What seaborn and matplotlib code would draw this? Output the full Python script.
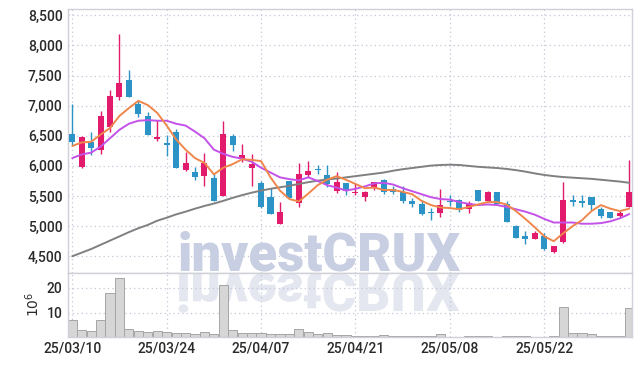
import numpy as np
import pandas as pd
import matplotlib
matplotlib.use("Agg")
import matplotlib.pyplot as plt
import seaborn as sns
from matplotlib.ticker import FuncFormatter
from matplotlib.textpath import TextPath
from matplotlib.patches import PathPatch
from matplotlib.font_manager import FontProperties
from matplotlib.transforms import Affine2D, IdentityTransform

# trading days shown on the chart
dates = ["25/03/10", "25/03/11", "25/03/12", "25/03/13", "25/03/14", "25/03/17", "25/03/18", "25/03/19",
         "25/03/20", "25/03/21", "25/03/24", "25/03/25", "25/03/26", "25/03/27", "25/03/28", "25/03/31",
         "25/04/01", "25/04/02", "25/04/03", "25/04/04", "25/04/07", "25/04/08", "25/04/09", "25/04/10",
         "25/04/11", "25/04/14", "25/04/15", "25/04/16", "25/04/17", "25/04/18", "25/04/21", "25/04/22",
         "25/04/23", "25/04/24", "25/04/25", "25/04/28", "25/04/29", "25/04/30", "25/05/02", "25/05/07",
         "25/05/08", "25/05/09", "25/05/12", "25/05/13", "25/05/14", "25/05/15", "25/05/16", "25/05/19",
         "25/05/20", "25/05/21", "25/05/22", "25/05/23", "25/05/26", "25/05/27", "25/05/28", "25/05/29",
         "25/05/30", "25/06/02", "25/06/04", "25/06/05"]

opens = [6530, 5990, 6400, 6270, 6650, 7140, 7430, 7030, 6830, 6450, 6380, 6560, 5940, 5900, 5840,
         5800, 5500, 6490, 6110, 5970, 5710, 5490, 5030, 5750, 5380, 5850, 5950, 5850, 5590, 5720,
         5550, 5480, 5630, 5770, 5610, 5560, 5410, 5370, 5220, 5210, 5420, 5430, 5290, 5600, 5420,
         5560, 5370, 5000, 4840, 4780, 4840, 4570, 4730, 5430, 5420, 5490, 5290, 5240, 5170, 5310]
highs = [7030, 6490, 6570, 6910, 7260, 8190, 7590, 7080, 6890, 6760, 6520, 6610, 6230, 5980, 6210,
         5860, 6750, 6530, 6360, 6190, 5750, 5630, 5400, 5750, 6040, 6080, 6020, 6020, 5900, 5720,
         5710, 5580, 5740, 5780, 5660, 5660, 5460, 5430, 5300, 5610, 5520, 5450, 5410, 5600, 5590,
         5560, 5420, 5020, 4920, 4920, 4880, 4670, 5740, 5510, 5520, 5490, 5320, 5240, 5250, 6100]
lows = [6340, 5960, 6180, 6190, 6570, 7090, 7140, 6810, 6510, 6410, 6160, 5970, 5910, 5770, 5670,
        5410, 5500, 6240, 6070, 5670, 5300, 5200, 5030, 5460, 5320, 5820, 5860, 5650, 5550, 5520,
        5520, 5420, 5600, 5530, 5530, 5390, 5310, 5180, 5110, 5150, 5340, 5240, 5220, 5420, 5420,
        5370, 5070, 4800, 4710, 4780, 4610, 4560, 4720, 5330, 5320, 5270, 5130, 5140, 5150, 5310]
closes = [6400, 6480, 6290, 6830, 7160, 7380, 7140, 6870, 6510, 6480, 6350, 5970, 6050, 5820, 6050,
          5420, 6530, 6350, 6180, 6030, 5310, 5200, 5240, 5460, 5870, 5920, 5930, 5700, 5730, 5580,
          5570, 5570, 5740, 5560, 5560, 5410, 5360, 5200, 5210, 5350, 5400, 5260, 5390, 5420, 5560,
          5370, 5070, 4810, 4780, 4880, 4620, 4670, 5430, 5400, 5380, 5350, 5170, 5140, 5220, 5570]

ma5 = [6330, 6390, 6400, 6520, 6630, 6830, 6960, 7080, 7010, 6880, 6670, 6440, 6270, 6130, 6050,
       5860, 5970, 6030, 6110, 6100, 6080, 5810, 5590, 5450, 5410, 5540, 5680, 5770, 5830, 5770,
       5700, 5630, 5640, 5600, 5600, 5570, 5530, 5420, 5350, 5310, 5300, 5280, 5320, 5360, 5400,
       5400, 5360, 5250, 5120, 4980, 4830, 4750, 4880, 5000, 5100, 5250, 5350, 5290, 5250, 5290]
ma10 = [6130, 6190, 6220, 6320, 6460, 6600, 6700, 6750, 6760, 6750, 6750, 6700, 6670, 6570, 6460,
        6270, 6200, 6150, 6120, 6070, 5970, 5890, 5810, 5780, 5760, 5810, 5750, 5680, 5640, 5590,
        5620, 5660, 5710, 5720, 5690, 5630, 5580, 5530, 5480, 5450, 5440, 5400, 5370, 5350, 5360,
        5350, 5320, 5280, 5240, 5190, 5120, 5060, 5060, 5060, 5040, 5040, 5050, 5080, 5130, 5200]
ma_long = [4500, 4560, 4620, 4690, 4760, 4830, 4900, 4965, 5020, 5090, 5140, 5195, 5240, 5290, 5335,
           5375, 5420, 5470, 5515, 5555, 5590, 5620, 5645, 5670, 5700, 5730, 5755, 5775, 5790, 5810,
           5830, 5850, 5870, 5890, 5920, 5945, 5965, 5985, 6005, 6015, 6020, 6015, 6000, 5985, 5975,
           5965, 5950, 5930, 5905, 5875, 5850, 5830, 5815, 5805, 5795, 5785, 5770, 5755, 5740, 5720]

# volume in millions of shares
volume = [7.2, 2.8, 2.4, 7.2, 18.0, 24.0, 3.2, 2.4, 2.0, 2.4, 2.0, 1.9, 1.6, 1.2, 2.0,
          1.3, 21.3, 2.8, 1.6, 1.6, 1.6, 1.2, 1.2, 1.2, 3.2, 2.0, 1.2, 1.6, 1.0, 0.9,
          0.7, 0.7, 0.7, 0.9, 0.7, 0.5, 0.4, 0.4, 0.4, 1.2, 0.3, 0.3, 0.6, 0.6, 0.6,
          0.3, 0.6, 0.6, 0.6, 0.3, 0.3, 0.5, 12.4, 1.6, 1.6, 1.2, 0.7, 0.4, 0.7, 12.0]

tick_dates = ["25/03/10", "25/03/24", "25/04/07", "25/04/21", "25/05/08", "25/05/22"]
price_ticks = [4500, 5000, 5500, 6000, 6500, 7000, 7500, 8000, 8500]
vol_ticks = [10, 20]

df = pd.DataFrame({"date": dates, "open": opens, "high": highs, "low": lows, "close": closes,
                   "ma5": ma5, "ma10": ma10, "ma_long": ma_long, "vol": volume})
df["x"] = np.arange(len(df))

UP = "#e21b6c"
DOWN = "#2c93c6"
GRID = "#c3c7d8"
SPINE = "#cfd0d8"

sns.set_style("white")
plt.rcParams["font.family"] = ["Liberation Sans Narrow", "Roboto", "DejaVu Sans"]
plt.rcParams["font.weight"] = "medium"

fig = plt.figure(figsize=(6.42, 3.66), dpi=100)
ax = fig.add_axes([68.3 / 642, 1 - 272.7 / 366, 563.4 / 642, 263.4 / 366])
axv = fig.add_axes([68.3 / 642, 1 - 337.3 / 366, 563.4 / 642, 64.6 / 366], sharex=ax)

# candles
up = df["close"] >= df["open"]
colors = np.where(up, UP, DOWN)
ax.vlines(df["x"], df["low"], df["high"], colors=colors, linewidth=1.0, zorder=3)
body = (df["close"] - df["open"]).abs().clip(lower=22)
ax.bar(df["x"], body, bottom=df[["open", "close"]].min(axis=1), width=0.64,
       color=colors, linewidth=0, zorder=4)

# moving averages
sns.lineplot(data=df, x="x", y="ma_long", ax=ax, color="#808080", linewidth=1.4, zorder=5)
sns.lineplot(data=df, x="x", y="ma10", ax=ax, color="#c452e8", linewidth=1.4, zorder=5)
sns.lineplot(data=df, x="x", y="ma5", ax=ax, color="#ef874c", linewidth=1.4, zorder=6)

# volume
sns.barplot(data=df, x="x", y="vol", ax=axv, native_scale=True, color="#d6d6d6",
            edgecolor="#a5a5a5", linewidth=0.7, width=0.97, zorder=2)

tick_pos = [dates.index(d) for d in tick_dates]
for a in (ax, axv):
    a.set_xlabel("")
    a.set_ylabel("")
    a.set_xlim(-0.42, 59.26)
    a.grid(True, color=GRID, linestyle=(0, (1, 2.5)), linewidth=0.9)
    a.set_axisbelow(True)
    a.tick_params(length=0, labelsize=10, labelcolor="#2a2a2a", pad=4)
    for s in a.spines.values():
        s.set_color(SPINE)
        s.set_linewidth(1.0)

ax.set_ylim(4227, 8600)
ax.set_yticks(price_ticks)
ax.yaxis.set_major_formatter(FuncFormatter(lambda v, p: f"{v:,.0f}"))
ax.set_xticks(tick_pos)
ax.tick_params(axis="x", labelbottom=False)

axv.set_ylim(0, 26.2)
axv.set_yticks(vol_ticks)
axv.set_xticks(tick_pos)
axv.set_xticklabels(tick_dates)
axv.tick_params(axis="x", pad=3)
fig.text(33 / 642, 1 - 304 / 366, r"$10^6$", rotation=90, ha="center", va="center",
         fontsize=10, color="#2a2a2a")

# watermark with its reflection
wm_prop = FontProperties(family="Roboto", weight="black")
fig.text(319 / 642, (366 - 270.5) / 366, "investCRUX", ha="center", va="baseline",
         fontsize=38, fontproperties=wm_prop, color="#c9cfe2", zorder=0.5)
tp = TextPath((0, 0), "investCRUX", size=38 * 100 / 72, prop=wm_prop)
ext = tp.get_extents()
tr = Affine2D().translate(-(ext.x0 + ext.x1) / 2, 0).scale(1, -1).translate(319, 366 - 273.5)
refl = PathPatch(tr.transform_path(tp), transform=IdentityTransform(), facecolor="#e4e7f0",
                 edgecolor="none", zorder=0.5)
axv.add_artist(refl)

fig.savefig("out.png", dpi=100)
